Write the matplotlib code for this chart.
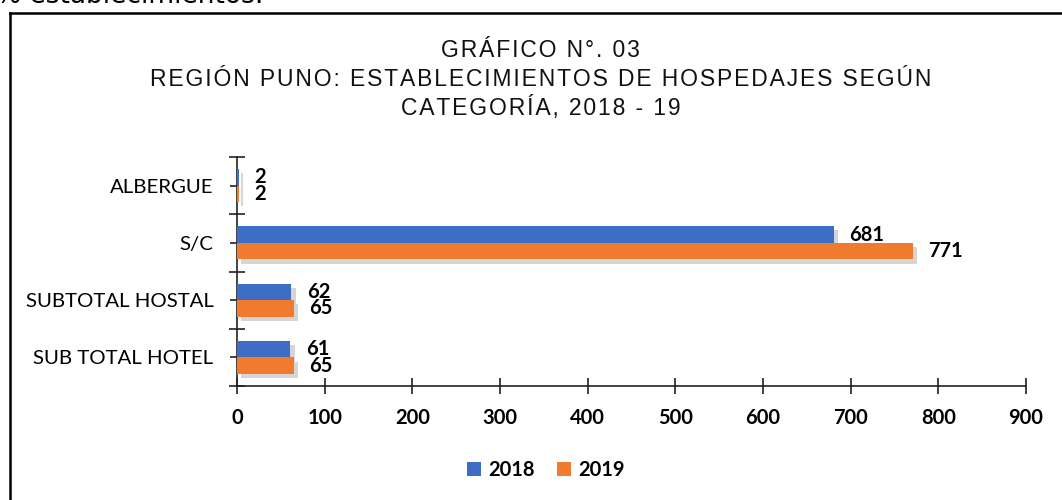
import matplotlib.pyplot as plt
import matplotlib.patheffects as pe
from matplotlib.patches import Patch
from matplotlib.lines import Line2D
import numpy as np

# Data
categorias = ["SUB TOTAL HOTEL", "SUBTOTAL HOSTAL", "S/C", "ALBERGUE"]
anio_2018 = [61, 62, 681, 2]
anio_2019 = [65, 65, 771, 2]
x_ticks = [0, 100, 200, 300, 400, 500, 600, 700, 800, 900]
titulo = ["GRÁFICO N°. 03",
          "REGIÓN PUNO: ESTABLECIMIENTOS DE HOSPEDAJES SEGÚN",
          "CATEGORÍA, 2018 - 19"]

azul = "#3E6DC6"
naranja = "#F07B2F"


def espaciado(s):
    # Excel-style letter spacing with hair spaces
    return "\u200a".join(s)


fig = plt.figure(figsize=(10.62, 5.0), dpi=100)
ax = fig.add_axes([237 / 1062, 114 / 500, 789 / 1062, 229 / 500])

y = np.arange(len(categorias))
h = 0.29
sombra = [pe.SimplePatchShadow(offset=(3, -3), shadow_rgbFace="#888888", alpha=0.35), pe.Normal()]

b1 = ax.barh(y + h / 2, anio_2018, height=h, color=azul, path_effects=sombra, zorder=3)
b2 = ax.barh(y - h / 2, anio_2019, height=h, color=naranja, path_effects=sombra, zorder=3)

etiq = dict(padding=11, fontsize=14.5, fontweight="bold", family="Lato", color="black")
ax.bar_label(b1, labels=[str(v) for v in anio_2018], **etiq)
ax.bar_label(b2, labels=[str(v) for v in anio_2019], **etiq)

ax.set_xlim(0, 900)
ax.set_ylim(-0.5, len(categorias) - 0.5)
ax.set_xticks(x_ticks)
ax.set_xticklabels([str(t) for t in x_ticks], fontsize=14.5, fontweight="bold", family="Lato")
ax.tick_params(axis="x", direction="inout", length=11, width=1.2, color="#222222", pad=10)

# category boundaries as major ticks, labels on the minor ticks
ax.set_yticks(np.arange(-0.5, len(categorias), 1.0))
ax.set_yticklabels([])
ax.set_yticks(y, minor=True)
ax.set_yticklabels(categorias, minor=True, fontsize=14.7, family="Lato")
ax.tick_params(axis="y", which="major", direction="inout", length=11, width=1.2, color="#222222")
ax.tick_params(axis="y", which="minor", direction="out", length=5, width=1.2, color="#222222", pad=12)

for s in ["top", "right"]:
    ax.spines[s].set_visible(False)
for s in ["left", "bottom"]:
    ax.spines[s].set_color("#222222")
    ax.spines[s].set_linewidth(1.2)

# title
fam_t = ["Liberation Sans", "DejaVu Sans"]
for linea, yy in zip(titulo, [0.899, 0.842, 0.785]):
    fig.text(0.509, yy, espaciado(linea), ha="center", va="center", fontsize=16.5,
             family=fam_t, color="#111111")

# legend
handles = [Patch(facecolor=azul, label="2018"), Patch(facecolor=naranja, label="2019")]
fig.legend(handles=handles, loc="center", bbox_to_anchor=(0.514, 0.06), ncol=2, frameon=False,
           handlelength=0.7, handleheight=0.7, handletextpad=0.35, columnspacing=1.1,
           prop={"family": "Lato", "weight": "bold", "size": 14.5})

# outer frame of the chart area (continues beyond the crop)
fig.add_artist(Line2D([10 / 1062, 10 / 1062], [487 / 500, -0.05], transform=fig.transFigure,
                      color="black", linewidth=1.8))
fig.add_artist(Line2D([10 / 1062, 1.05], [487 / 500, 487 / 500], transform=fig.transFigure,
                      color="black", linewidth=1.8))

# cropped text from the page above
fig.text(-0.004, 0.994, "% establecimientos.", ha="left", va="baseline", fontsize=19,
         family="DejaVu Sans", color="black")

fig.savefig("out.png", dpi=100)
